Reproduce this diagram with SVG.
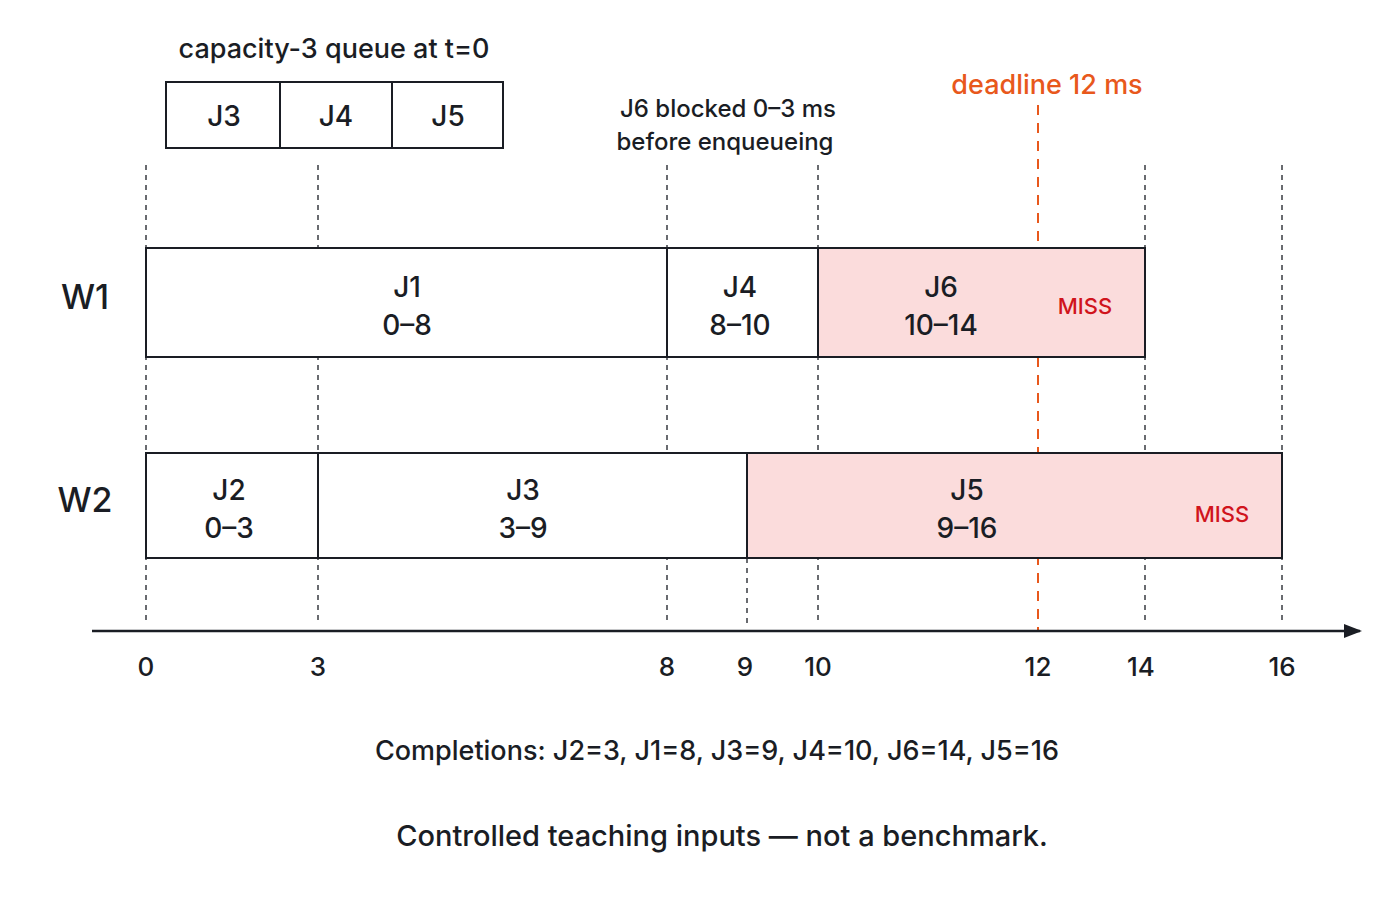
<svg xmlns="http://www.w3.org/2000/svg" width="1400" height="900" viewBox="0 0 1400 900">
<style>
text{font-family:"Inter","Liberation Sans",sans-serif;fill:#1a1d24;font-weight:500}
.b{fill:#fff;stroke:#1a1d24;stroke-width:2}
.m{fill:#fbdcdc;stroke:#1a1d24;stroke-width:2}
.g{stroke:#1a1d24;stroke-width:1.3;stroke-dasharray:5 5;fill:none}
.l{font-size:28px;text-anchor:middle}
.t{font-size:26px;text-anchor:middle}
.miss{fill:#d0141c;font-size:22px;text-anchor:middle}
</style>
<defs><marker id="ah" markerWidth="18" markerHeight="14" refX="16" refY="7" orient="auto" markerUnits="userSpaceOnUse"><path d="M0,0L18,7L0,14Z" fill="#1a1d24"/></marker></defs>
<rect width="1400" height="900" fill="#fff"/>
<g id="queue">
<text x="334" y="58" font-size="27" text-anchor="middle" font-weight="600">capacity-3 queue at t=0</text>
<rect x="166" y="82" width="337" height="66" class="b"/>
<line x1="280" y1="82" x2="280" y2="148" stroke="#1a1d24" stroke-width="2"/>
<line x1="392" y1="82" x2="392" y2="148" stroke="#1a1d24" stroke-width="2"/>
<text x="224" y="126" class="l">J3</text><text x="336" y="126" class="l">J4</text><text x="448" y="126" class="l">J5</text>
</g>
<g id="connectors">
<path class="g" d="M146 165V625M318 165V625M667 165V625M818 165V625M1145 165V625M1282 165V625M747 558V625"/>
<line x1="1038" y1="105" x2="1038" y2="631" stroke="#e8581c" stroke-width="2" stroke-dasharray="10 8"/>
<line x1="92" y1="631" x2="1360" y2="631" stroke="#1a1d24" stroke-width="2.5" marker-end="url(#ah)"/>
</g>
<text x="1047" y="94" font-size="27" text-anchor="middle" style="fill:#e8581c">deadline 12 ms</text>
<text x="728" y="117" font-size="24" text-anchor="middle">J6 blocked 0–3 ms</text>
<text x="725" y="150" font-size="24" text-anchor="middle">before enqueueing</text>
<text x="85" y="309" font-size="34" text-anchor="middle">W1</text>
<text x="85" y="512" font-size="34" text-anchor="middle">W2</text>
<g id="J1"><rect x="146" y="248" width="521" height="109" class="b"/><text x="407" y="297" class="l">J1</text><text x="407" y="335" class="l">0–8</text></g>
<g id="J4"><rect x="667" y="248" width="151" height="109" class="b"/><text x="740" y="297" class="l">J4</text><text x="740" y="335" class="l">8–10</text></g>
<g id="J6"><rect x="818" y="248" width="327" height="109" class="m"/><text x="941" y="297" class="l">J6</text><text x="941" y="335" class="l">10–14</text><text x="1085" y="314" class="miss" style="fill:#d0141c">MISS</text></g>
<g id="J2"><rect x="146" y="453" width="172" height="105" class="b"/><text x="229" y="500" class="l">J2</text><text x="229" y="538" class="l">0–3</text></g>
<g id="J3"><rect x="318" y="453" width="429" height="105" class="b"/><text x="523" y="500" class="l">J3</text><text x="523" y="538" class="l">3–9</text></g>
<g id="J5"><rect x="747" y="453" width="535" height="105" class="m"/><text x="967" y="500" class="l">J5</text><text x="967" y="538" class="l">9–16</text><text x="1222" y="522" class="miss" style="fill:#d0141c">MISS</text></g>
<g id="ticks">
<text x="146" y="676" class="t">0</text><text x="318" y="676" class="t">3</text><text x="667" y="676" class="t">8</text><text x="745" y="676" class="t">9</text><text x="818" y="676" class="t">10</text><text x="1038" y="676" class="t">12</text><text x="1141" y="676" class="t">14</text><text x="1282" y="676" class="t">16</text>
</g>
<text x="717" y="760" font-size="27" text-anchor="middle">Completions:  J2=3,  J1=8,  J3=9,  J4=10,  J6=14,  J5=16</text>
<text x="722" y="846" font-size="29" text-anchor="middle" font-weight="600">Controlled teaching inputs — not a benchmark.</text>
</svg>
